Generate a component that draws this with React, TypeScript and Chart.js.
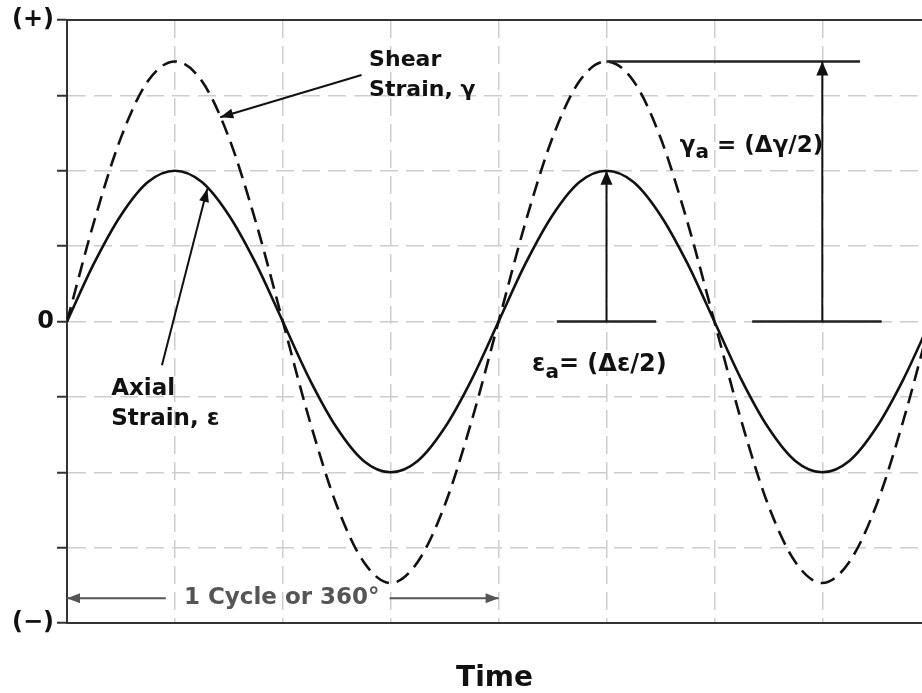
import React, { useEffect, useRef } from "react";
import { Chart, registerables } from "chart.js";

Chart.register(...registerables);

// Time axis in grid units (4 units = 1 cycle = 360°)
const timeX = [0, 0.25, 0.5, 0.75, 1, 1.25, 1.5, 1.75, 2, 2.25, 2.5, 2.75, 3, 3.25, 3.5, 3.75, 4,
  4.25, 4.5, 4.75, 5, 5.25, 5.5, 5.75, 6, 6.25, 6.5, 6.75, 7, 7.25, 7.5, 7.75, 8];
const axialStrain = [0, 0.77, 1.41, 1.85, 2, 1.85, 1.41, 0.77, 0, -0.77, -1.41, -1.85, -2, -1.85, -1.41, -0.77, 0,
  0.77, 1.41, 1.85, 2, 1.85, 1.41, 0.77, 0, -0.77, -1.41, -1.85, -2, -1.85, -1.41, -0.77, 0];
const shearStrain = [0, 1.32, 2.44, 3.19, 3.45, 3.19, 2.44, 1.32, 0, -1.32, -2.44, -3.19, -3.47, -3.19, -2.44, -1.32, 0,
  1.32, 2.44, 3.19, 3.45, 3.19, 2.44, 1.32, 0, -1.32, -2.44, -3.19, -3.47, -3.19, -2.44, -1.32, 0];
const yTickValues = [4, 0, -4];
const yTickLabels = ["(+)", "0", "(\u2212)"];
const xAxisTitle = "Time";
const shearLabel = ["Shear", "Strain, \u03b3"];
const axialLabel = ["Axial", "Strain, \u03b5"];
const cycleLabel = "1 Cycle or 360\u00b0";

const FONT = '"DejaVu Sans", Verdana, sans-serif';
const INK = "#111";

function arrowHead(ctx: CanvasRenderingContext2D, x1: number, y1: number, x2: number, y2: number, len: number, half: number, color: string) {
  const a = Math.atan2(y2 - y1, x2 - x1);
  ctx.save();
  ctx.fillStyle = color;
  ctx.beginPath();
  ctx.moveTo(x2, y2);
  ctx.lineTo(x2 - len * Math.cos(a) + half * Math.sin(a), y2 - len * Math.sin(a) - half * Math.cos(a));
  ctx.lineTo(x2 - len * Math.cos(a) - half * Math.sin(a), y2 - len * Math.sin(a) + half * Math.cos(a));
  ctx.closePath();
  ctx.fill();
  ctx.restore();
}

function seg(ctx: CanvasRenderingContext2D, x1: number, y1: number, x2: number, y2: number, color: string, w: number) {
  ctx.save();
  ctx.strokeStyle = color;
  ctx.lineWidth = w;
  ctx.setLineDash([]);
  ctx.beginPath();
  ctx.moveTo(x1, y1);
  ctx.lineTo(x2, y2);
  ctx.stroke();
  ctx.restore();
}

function subText(ctx: CanvasRenderingContext2D, parts: [string, boolean][], x: number, y: number, size: number, color: string) {
  ctx.save();
  ctx.fillStyle = color;
  ctx.textBaseline = "middle";
  ctx.textAlign = "left";
  let cx = x;
  for (const [t, sub] of parts) {
    ctx.font = `bold ${sub ? Math.round(size * 0.85) : size}px ${FONT}`;
    ctx.fillText(t, cx, sub ? y + size * 0.32 : y);
    cx += ctx.measureText(t).width;
  }
  ctx.restore();
}

const annotations = {
  id: "annotations",
  afterDatasetsDraw(chart: any) {
    const { ctx, chartArea } = chart;
    const xs = chart.scales.x;
    const ys = chart.scales.y;
    const px = (v: number) => xs.getPixelForValue(v);
    const py = (v: number) => ys.getPixelForValue(v);
    ctx.save();
    // top frame line
    seg(ctx, chartArea.left, chartArea.top, chartArea.right, chartArea.top, "#333", 2);

    // Shear label + arrow
    ctx.font = `bold 22px ${FONT}`;
    ctx.fillStyle = INK;
    ctx.textBaseline = "middle";
    ctx.textAlign = "left";
    ctx.fillText(shearLabel[0], px(2.8), py(3.47));
    ctx.fillText(shearLabel[1], px(2.8), py(3.07));
    seg(ctx, px(2.73), py(3.27), px(1.42), py(2.71), INK, 2);
    arrowHead(ctx, px(2.73), py(3.27), px(1.42), py(2.71), 13, 5, INK);

    // Axial label + arrow
    ctx.font = `bold 23px ${FONT}`;
    ctx.fillStyle = INK;
    ctx.fillText(axialLabel[0], px(0.41), py(-0.9));
    ctx.fillText(axialLabel[1], px(0.41), py(-1.29));
    seg(ctx, px(0.88), py(-0.58), px(1.3), py(1.76), INK, 2);
    arrowHead(ctx, px(0.88), py(-0.58), px(1.3), py(1.76), 13, 5, INK);

    // epsilon amplitude
    seg(ctx, px(4.54), py(0), px(5.46), py(0), "#222", 2.5);
    seg(ctx, px(5), py(0), px(5), py(2), INK, 2);
    arrowHead(ctx, px(5), py(0), px(5), py(2), 14, 6, INK);
    subText(ctx, [["\u03b5", false], ["a", true], ["= (\u0394\u03b5/2)", false]], px(4.31), py(-0.58), 24, INK);

    // gamma amplitude
    seg(ctx, px(5), py(3.45), px(7.35), py(3.45), "#222", 2.5);
    seg(ctx, px(6.35), py(0), px(7.55), py(0), "#222", 2.5);
    seg(ctx, px(7), py(0), px(7), py(3.45), INK, 2);
    arrowHead(ctx, px(7), py(0), px(7), py(3.45), 14, 6, INK);
    subText(ctx, [["\u03b3", false], ["a", true], [" = (\u0394\u03b3/2)", false]], px(5.68), py(2.33), 23, INK);

    // 1 cycle arrow
    const gy = py(-3.67);
    seg(ctx, px(0), gy, px(0.915), gy, "#555", 2);
    arrowHead(ctx, px(0.915), gy, px(0), gy, 13, 5, "#555");
    seg(ctx, px(2.99), gy, px(4), gy, "#555", 2);
    arrowHead(ctx, px(2.99), gy, px(4), gy, 13, 5, "#555");
    ctx.font = `bold 23px ${FONT}`;
    ctx.fillStyle = "#555";
    ctx.textAlign = "center";
    ctx.textBaseline = "middle";
    ctx.fillText(cycleLabel, px(1.99), gy);
    ctx.restore();
  },
};

export default function App() {
  const ref = useRef<HTMLCanvasElement | null>(null);
  useEffect(() => {
    if (!ref.current) return;
    const chart = new Chart(ref.current, {
      type: "line",
      data: {
        datasets: [
          {
            label: "Axial Strain",
            data: timeX.map((t, i) => ({ x: t, y: axialStrain[i] })),
            borderColor: INK,
            borderWidth: 2.6,
            pointRadius: 0,
            cubicInterpolationMode: "monotone",
            fill: false,
          },
          {
            label: "Shear Strain",
            data: timeX.map((t, i) => ({ x: t, y: shearStrain[i] })),
            borderColor: INK,
            borderWidth: 2.6,
            borderDash: [15, 8],
            pointRadius: 0,
            cubicInterpolationMode: "monotone",
            fill: false,
          },
        ],
      },
      options: {
        animation: false,
        responsive: false,
        layout: { padding: { top: 20, right: 0, bottom: 0, left: 0 } },
        plugins: { legend: { display: false }, tooltip: { enabled: false } },
        scales: {
          x: {
            type: "linear",
            min: 0,
            max: 7.924,
            afterFit: (s: any) => { s.height = 70; },
            ticks: { display: false, stepSize: 1 },
            afterBuildTicks: (s: any) => {
              s.ticks = [0, 1, 2, 3, 4, 5, 6, 7].map((v) => ({ value: v }));
            },
            grid: { color: "#cdcdcd", lineWidth: 1.5, drawTicks: false },
            border: { color: "#333", width: 2, dash: [18, 8] },
            title: {
              display: true,
              text: xAxisTitle,
              color: INK,
              font: { family: FONT, size: 28, weight: "bold", lineHeight: 1 },
              padding: 0,
            },
          },
          y: {
            type: "linear",
            min: -4,
            max: 4,
            afterFit: (s: any) => { s.width = 67; },
            ticks: {
              stepSize: 1,
              color: INK,
              padding: 3,
              font: { family: FONT, size: 24, weight: "bold" },
              callback: (v: any) => {
                const i = yTickValues.indexOf(Number(v));
                return i >= 0 ? yTickLabels[i] : "";
              },
            },
            grid: { color: "#cdcdcd", lineWidth: 1.5, tickLength: 10, tickColor: "#333", tickWidth: 2 },
            border: { color: "#333", width: 2, dash: [18, 8] },
          },
        },
      },
      plugins: [annotations],
    } as any);
    return () => chart.destroy();
  }, []);
  return (
    <div style={{ position: "absolute", left: 0, top: 0, width: 922, height: 693, background: "#fff" }}>
      <canvas ref={ref} width={922} height={693} />
    </div>
  );
}
